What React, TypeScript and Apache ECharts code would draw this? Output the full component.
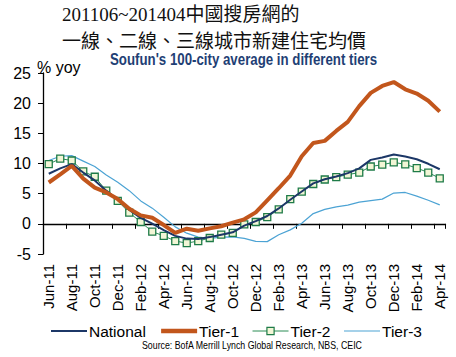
import React, { useEffect, useRef } from "react";
import * as echarts from "echarts";

const months = [
  "Jun-11","Jul-11","Aug-11","Sep-11","Oct-11","Nov-11","Dec-11",
  "Jan-12","Feb-12","Mar-12","Apr-12","May-12","Jun-12","Jul-12","Aug-12","Sep-12","Oct-12","Nov-12","Dec-12",
  "Jan-13","Feb-13","Mar-13","Apr-13","May-13","Jun-13","Jul-13","Aug-13","Sep-13","Oct-13","Nov-13","Dec-13",
  "Jan-14","Feb-14","Mar-14","Apr-14",
];

const national = [8.3, 9.2, 9.9, 8.5, 7.2, 5.5, 4.0, 2.3, 1.0, 0.05, -1.05, -2.0, -2.45, -2.5, -2.2, -1.8, -1.4, -0.3, 0.45, 1.3, 2.55, 4.0, 5.35, 6.7, 7.4, 7.85, 8.4, 9.2, 10.6, 11.0, 11.5, 11.15, 10.7, 9.95, 9.05];
const tier1 = [6.85, 8.2, 9.6, 7.5, 6.0, 5.2, 4.1, 2.5, 1.4, 1.0, -0.2, -1.5, -0.8, -1.15, -0.75, -0.4, 0.2, 0.75, 1.9, 3.9, 5.9, 8.0, 11.2, 13.4, 13.75, 15.4, 16.9, 19.5, 21.7, 22.85, 23.5, 22.3, 21.6, 20.4, 18.6];
const tier2 = [9.9, 10.8, 10.5, 8.7, 7.8, 5.5, 3.8, 1.85, 0.3, -1.3, -2.0, -2.85, -3.2, -2.85, -2.35, -1.8, -1.5, -0.1, 0.3, 1.1, 2.4, 4.1, 5.35, 6.6, 7.35, 7.75, 8.15, 8.5, 9.5, 9.8, 10.2, 9.85, 9.25, 8.5, 7.55];
const tier3 = [10.5, 11.2, 11.3, 10.4, 9.5, 8.1, 6.9, 5.5, 3.8, 2.6, 1.1, -0.5, -1.55, -2.2, -2.4, -2.2, -2.15, -2.4, -2.9, -2.95, -1.8, -1.0, 0.1, 1.7, 2.4, 2.8, 3.1, 3.6, 3.85, 4.1, 5.1, 5.2, 4.6, 3.9, 3.15];

const yTicks = [-5, 0, 5, 10, 15, 20, 25];

const titleLine1 = "201106~201404中國搜房網的";
const titleLine2 = "一線、二線、三線城市新建住宅均價";
const subtitle = "Soufun's 100-city average in different tiers";
const yUnit = "% yoy";
const source = "Source: BofA Merrill Lynch Global Research, NBS, CEIC";

export default function App() {
  const ref = useRef<HTMLDivElement>(null);
  useEffect(() => {
    if (!ref.current) return;
    const chart = echarts.init(ref.current, null, { renderer: "svg" });
    const axisFont = "Liberation Sans, Arial, sans-serif";
    const hidden = { opacity: 0 };
    chart.setOption({
      animation: false,
      backgroundColor: "#ffffff",
      grid: { left: 43, right: 10.5, top: 73, bottom: 103, containLabel: false },
      xAxis: [
        {
          type: "category",
          data: months,
          boundaryGap: true,
          axisLine: { show: true, onZero: true, lineStyle: { color: "#000", width: 1.3 } },
          axisTick: { show: true, interval: 1, length: 5, inside: false, lineStyle: { color: "#000", width: 1 } },
          axisLabel: { show: false },
          splitLine: { show: false },
        },
        {
          type: "category",
          data: months,
          boundaryGap: true,
          position: "bottom",
          axisLine: { show: false, onZero: false },
          axisTick: { show: false },
          axisLabel: {
            show: true,
            interval: 1,
            rotate: 90,
            margin: 10,
            fontSize: 15,
            color: "#000",
            fontFamily: axisFont,
          },
          splitLine: { show: false },
        },
      ],
      yAxis: {
        type: "value",
        min: yTicks[0],
        max: yTicks[yTicks.length - 1],
        interval: 5,
        axisLine: { show: true, lineStyle: { color: "#000", width: 1.3 } },
        axisTick: { show: true, length: 5, lineStyle: { color: "#000" } },
        axisLabel: { fontSize: 16, color: "#000", margin: 12, fontFamily: axisFont },
        splitLine: { show: false },
      },
      legend: {
        left: 45,
        top: 318,
        itemWidth: 36,
        itemHeight: 9,
        itemGap: 13,
        textStyle: { fontSize: 15.5, color: "#000", fontFamily: axisFont, padding: [0, 0, 0, -3] },
        data: [
          { name: "National", itemStyle: hidden, lineStyle: { width: 2 } },
          { name: "Tier-1", itemStyle: hidden, lineStyle: { width: 4.5 } },
          { name: "Tier-2", itemStyle: { color: "#F2F6D6", borderColor: "#1E7B48", borderWidth: 1.2 }, lineStyle: { width: 1 } },
          { name: "Tier-3", itemStyle: hidden, lineStyle: { width: 1.2 } },
        ],
      },
      series: [
        {
          name: "Tier-3",
          type: "line",
          xAxisIndex: 0,
          data: tier3,
          symbol: "none",
          lineStyle: { color: "#4CA3D4", width: 1.2 },
          itemStyle: { color: "#4CA3D4" },
          z: 1,
        },
        {
          name: "Tier-2",
          type: "line",
          xAxisIndex: 0,
          data: tier2,
          symbol: "rect",
          symbolSize: 7,
          showSymbol: true,
          showAllSymbol: true,
          lineStyle: { color: "#2A8C55", width: 1 },
          itemStyle: { color: "#F2F6D6", borderColor: "#1E7B48", borderWidth: 1.3 },
          z: 2,
        },
        {
          name: "National",
          type: "line",
          xAxisIndex: 0,
          data: national,
          symbol: "none",
          lineStyle: { color: "#1C3767", width: 2 },
          itemStyle: { color: "#1C3767" },
          z: 3,
        },
        {
          name: "Tier-1",
          type: "line",
          xAxisIndex: 0,
          data: tier1,
          symbol: "none",
          lineStyle: { color: "#C2561C", width: 4 },
          itemStyle: { color: "#C2561C" },
          z: 4,
        },
      ],
      graphic: [
        {
          type: "text",
          left: 62,
          top: 5,
          style: {
            text: titleLine1,
            fontSize: 19,
            fill: "#111",
            fontFamily: "Liberation Serif, Noto Sans CJK TC, serif",
          },
        },
        {
          type: "text",
          left: 62,
          top: 30,
          style: {
            text: titleLine2,
            fontSize: 19,
            fill: "#111",
            fontFamily: "Noto Sans CJK TC, sans-serif",
          },
        },
        {
          type: "text",
          x: 110,
          y: 52,
          scaleX: 0.83,
          style: {
            text: subtitle,
            fontSize: 16,
            fontWeight: "bold",
            fill: "#1F3F75",
            verticalAlign: "top",
            align: "left",
            fontFamily: axisFont,
          },
        },
        {
          type: "text",
          left: 37,
          top: 59,
          style: {
            text: yUnit,
            fontSize: 16,
            fill: "#000",
            fontFamily: axisFont,
          },
        },
        {
          type: "text",
          x: 142,
          y: 340,
          scaleX: 0.88,
          style: {
            text: source,
            fontSize: 10,
            fill: "#000",
            verticalAlign: "top",
            align: "left",
            fontFamily: axisFont,
          },
        },
      ],
    });
    return () => chart.dispose();
  }, []);
  return <div ref={ref} style={{ width: 456, height: 357, position: "absolute", left: 0, top: 0 }} />;
}
